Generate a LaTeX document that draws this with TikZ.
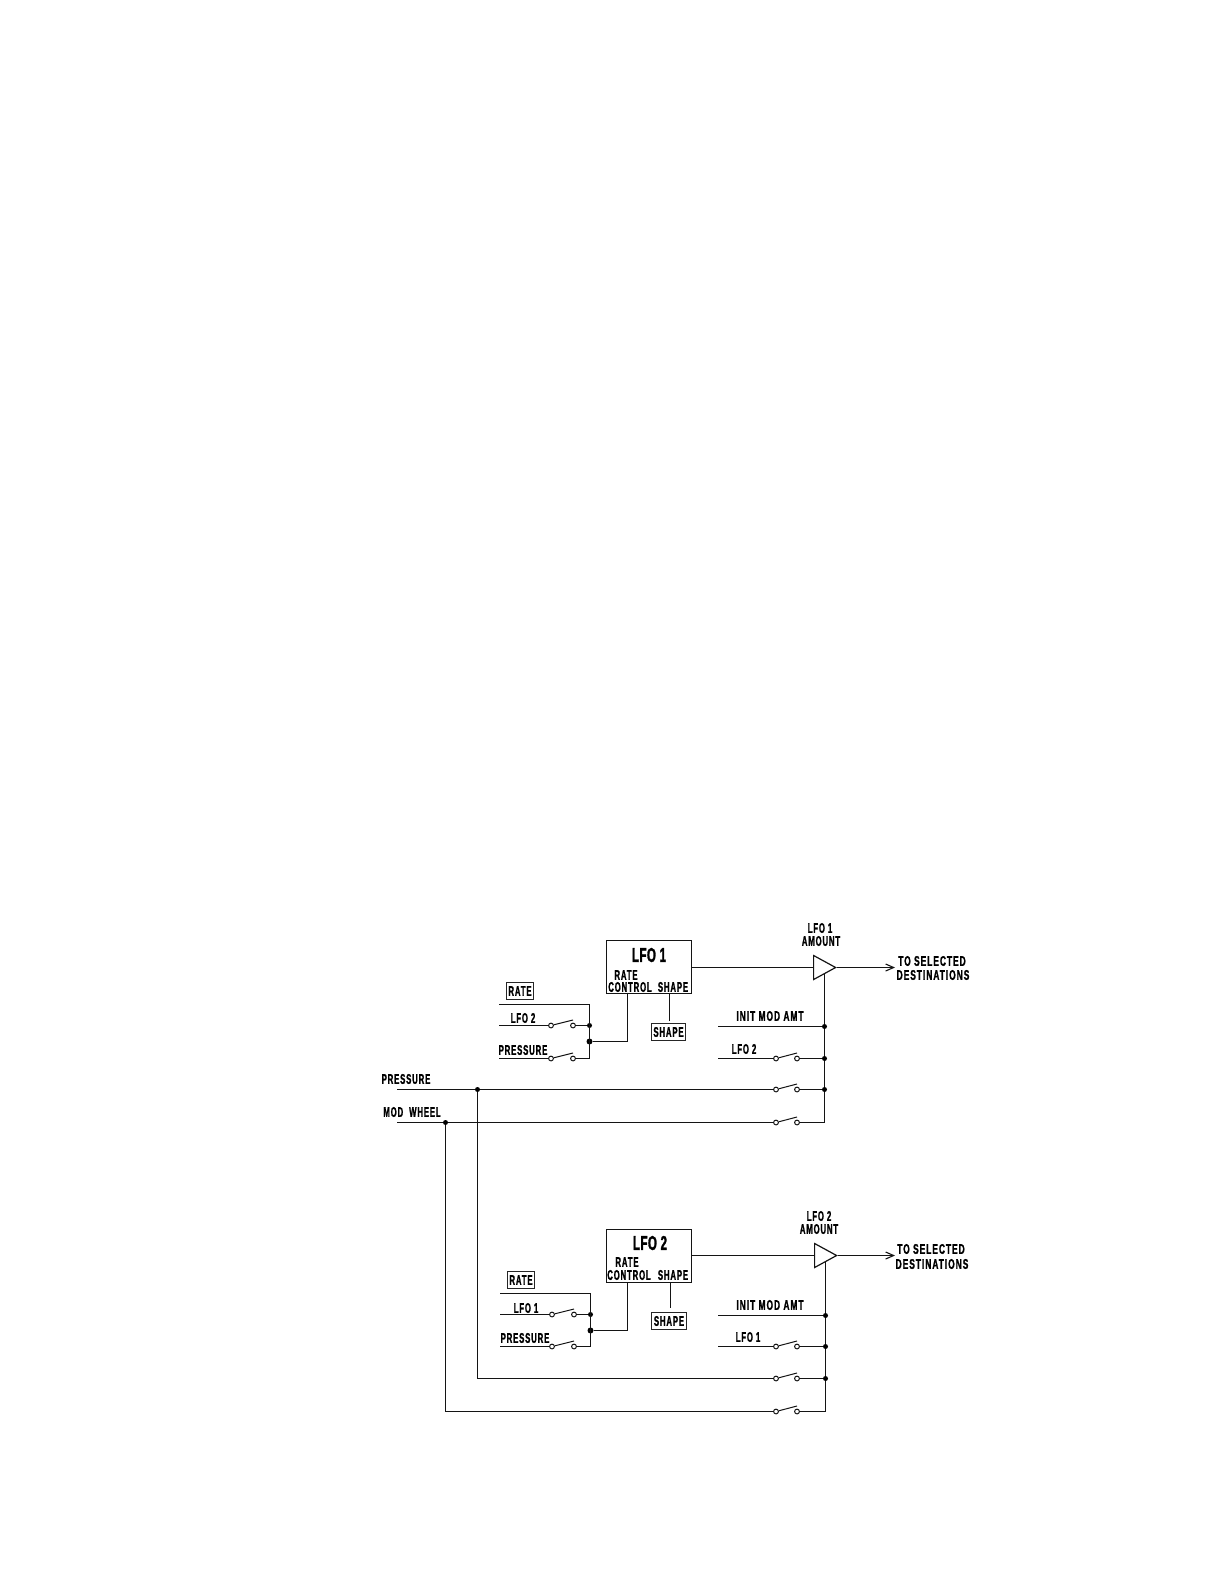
\documentclass[tikz,border=0pt]{standalone}
\usepackage{fontspec}
\usetikzlibrary{shapes.geometric,arrows.meta}
\newfontfamily\lbl[FakeStretch=0.555,FakeBold=1.2,LetterSpace=6]{Liberation Sans Bold}
\newfontfamily\lblw[FakeStretch=0.6,FakeBold=1.2,LetterSpace=7]{Liberation Sans Bold}
\newfontfamily\ttlf[FakeStretch=0.58,FakeBold=1.4,LetterSpace=2]{Liberation Sans Bold}
\tikzset{
  x=1pt,y=-1pt,
  wire/.style={draw=black!92,line width=1.2pt},
  txt/.style={inner sep=0,font=\lbl\fontsize{14}{14}\selectfont,text=black},
  txtw/.style={inner sep=0,font=\lblw\fontsize{14}{14}\selectfont,text=black},
  ttl/.style={inner sep=0,font=\ttlf\fontsize{20}{20}\selectfont,text=black},
  lfobox/.style={draw=black!92,line width=1.4pt,minimum width=85pt,minimum height=53pt,inner sep=0},
  ctl/.style={draw=black!85,line width=1pt,inner sep=2.4pt,font=\lbl\fontsize{14}{14}\selectfont,text=black,minimum height=16.5pt},
  dotn/.style={circle,fill=black,inner sep=0,minimum size=5pt},
  bigdot/.style={circle,fill=black,inner sep=0,minimum size=6pt},
  pin/.style={circle,draw=black!92,fill=white,line width=1pt,inner sep=0,minimum size=4.8pt},
  amp/.style={isosceles triangle,isosceles triangle stretches,shape border rotate=0,draw=black!92,line width=1.2pt,inner sep=0,minimum width=24pt,minimum height=22pt,anchor=lower side},
  tip/.style={-{Straight Barb[length=8pt,width=7pt,line width=1.1pt]}}
}
% switch: name, left x, right x, y
\newcommand{\swt}[4]{%
  \node[pin] (#1a) at (#2,#4) {};
  \node[pin] (#1b) at (#3,#4) {};
  \coordinate (#1c) at (#3,#4-5.5);
  \draw[wire,line width=1pt] (#1a) -- (#1c);
}
\begin{document}
\begin{tikzpicture}
\useasboundingbox (0,0) rectangle (1224,1584);
% ---- LFO 1
\node[lfobox] (boxA) at (649,967) {};
\node[ttl] (tA) at (649,955) {LFO 1};
\node[txt] (tArate) at (626,975) {RATE};
\node[txt] (tActl) at (630,987) {CONTROL};
\node[txt] (tAshp) at (673,987) {SHAPE};
\node[ctl] (rateA) at (520,991) {RATE};
\node[ctl] (shpA) at (668.5,1032) {SHAPE};
\node[txt] (lA2) at (523,1018) {LFO 2};
\node[txt] (lAp) at (523,1050) {PRESSURE};
\coordinate (rAl) at (499,1004.5);
\coordinate (rAc) at (589.5,1004.5);
\coordinate (iAl) at (499,1025.5);
\node[dotn] (jA1) at (589.5,1025.5) {};
\node[bigdot] (jA2) at (589.5,1041.5) {};
\coordinate (pAl) at (499,1058.5);
\coordinate (pAc) at (589.5,1058.5);
\coordinate (cA1) at (627.5,1041.5);
\coordinate (cA2) at (627.5,993.5);
\coordinate (sA1) at (669.5,993.5);
\coordinate (sA2) at (669.5,1021);
\swt{swA}{551}{573}{1025.5}
\swt{swB}{551}{573}{1058.5}
\draw[wire] (rAl) -- (rAc) -- (pAc) -- (swBb);
\draw[wire] (swBa) -- (pAl);
\draw[wire] (iAl) -- (swAa);
\draw[wire] (swAb) -- (jA1);
\draw[wire] (jA2) -- (cA1) -- (cA2);
\draw[wire] (sA1) -- (sA2);
% amount 1
\node[amp] (ampA) at (813,967.5) {};
\node[txt] (aA1) at (820,928) {LFO 1};
\node[txt] (aA2) at (821,941) {AMOUNT};
\node[txtw] (dA1) at (932,961) {TO SELECTED};
\node[txtw] (dA2) at (933,975) {DESTINATIONS};
\coordinate (oA) at (895,967.5);
\coordinate (inA) at (813,967.5);
\draw[wire] (boxA.east |- inA) -- (inA);
\draw[wire,tip] (ampA.apex) -- (oA);
\coordinate (vA0) at (824.5,974);
\coordinate (vA1) at (824.5,1122.5);
\draw[wire] (vA0) -- (vA1);
\node[txtw] (lAi) at (770,1016) {INIT MOD AMT};
\node[txt] (lAl) at (744,1049) {LFO 2};
\coordinate (aIl) at (718,1026.5);
\node[dotn] (aI) at (824.5,1026.5) {};
\coordinate (aLl) at (718,1058.5);
\node[dotn] (aL) at (824.5,1058.5) {};
\node[dotn] (aP) at (824.5,1089.5) {};
\swt{swC}{776}{797}{1058.5}
\swt{swD}{776}{797}{1089.5}
\swt{swE}{776}{797}{1122.5}
\draw[wire] (aIl) -- (aI);
\draw[wire] (aLl) -- (swCa);
\draw[wire] (swCb) -- (aL);
\draw[wire] (swDb) -- (aP);
\draw[wire] (swEb) -- (vA1);
% ---- inputs
\node[txt] (inP) at (406,1079) {PRESSURE};
\node[txt] (inM) at (412,1112) {MOD\hspace{6pt}WHEEL};
\coordinate (pS) at (397,1089.5);
\coordinate (mS) at (397,1122.5);
\node[dotn] (jP) at (477.5,1089.5) {};
\node[dotn] (jM) at (445.5,1122.5) {};
\draw[wire] (pS) -- (jP) -- (swDa);
\draw[wire] (mS) -- (jM) -- (swEa);
% ---- LFO 2
\node[lfobox] (boxB) at (649,1256) {};
\node[ttl] (tB) at (650,1243) {LFO 2};
\node[txt] (tBrate) at (627,1262) {RATE};
\node[txt] (tBctl) at (629,1275) {CONTROL};
\node[txt] (tBshp) at (673,1275) {SHAPE};
\node[ctl] (rateB) at (521,1280) {RATE};
\node[ctl] (shpB) at (669,1321) {SHAPE};
\node[txt] (lB1) at (526,1308) {LFO 1};
\node[txt] (lBp) at (525,1338) {PRESSURE};
\coordinate (rBl) at (500,1293.5);
\coordinate (rBc) at (590.5,1293.5);
\coordinate (iBl) at (500,1314.5);
\node[dotn] (jB1) at (590.5,1314.5) {};
\node[bigdot] (jB2) at (590.5,1330.5) {};
\coordinate (pBl) at (500,1346.5);
\coordinate (pBc) at (590.5,1346.5);
\coordinate (cB1) at (627.5,1330.5);
\coordinate (cB2) at (627.5,1282.5);
\coordinate (sB1) at (670.5,1282.5);
\coordinate (sB2) at (670.5,1308);
\swt{swF}{552}{574}{1314.5}
\swt{swG}{552}{574}{1346.5}
\draw[wire] (rBl) -- (rBc) -- (pBc) -- (swGb);
\draw[wire] (swGa) -- (pBl);
\draw[wire] (iBl) -- (swFa);
\draw[wire] (swFb) -- (jB1);
\draw[wire] (jB2) -- (cB1) -- (cB2);
\draw[wire] (sB1) -- (sB2);
% amount 2
\node[amp] (ampB) at (814,1255.5) {};
\node[txt] (aB1) at (819,1216) {LFO 2};
\node[txt] (aB2) at (819,1229) {AMOUNT};
\node[txtw] (dB1) at (931,1249) {TO SELECTED};
\node[txtw] (dB2) at (932,1264) {DESTINATIONS};
\coordinate (oB) at (895,1255.5);
\coordinate (inB) at (814,1255.5);
\draw[wire] (boxB.east |- inB) -- (inB);
\draw[wire,tip] (ampB.apex) -- (oB);
\coordinate (vB0) at (825.5,1262);
\coordinate (vB1) at (825.5,1411.5);
\draw[wire] (vB0) -- (vB1);
\node[txtw] (lBi) at (770,1305) {INIT MOD AMT};
\node[txt] (lBl) at (748,1337) {LFO 1};
\coordinate (bIl) at (718,1315.5);
\node[dotn] (bI) at (825.5,1315.5) {};
\coordinate (bLl) at (718,1346.5);
\node[dotn] (bL) at (825.5,1346.5) {};
\node[dotn] (bP) at (825.5,1378.5) {};
\swt{swH}{776}{797}{1346.5}
\swt{swI}{776}{797}{1378.5}
\swt{swJ}{776}{797}{1411.5}
\draw[wire] (bIl) -- (bI);
\draw[wire] (bLl) -- (swHa);
\draw[wire] (swHb) -- (bL);
\draw[wire] (swIb) -- (bP);
\draw[wire] (swJb) -- (vB1);
% long buses
\coordinate (pD) at (478,1378.5);
\coordinate (mD) at (446,1411.5);
\draw[wire] (jP) -- (jP |- pD) -- (swIa);
\draw[wire] (jM) -- (jM |- mD) -- (swJa);
\end{tikzpicture}
\end{document}
